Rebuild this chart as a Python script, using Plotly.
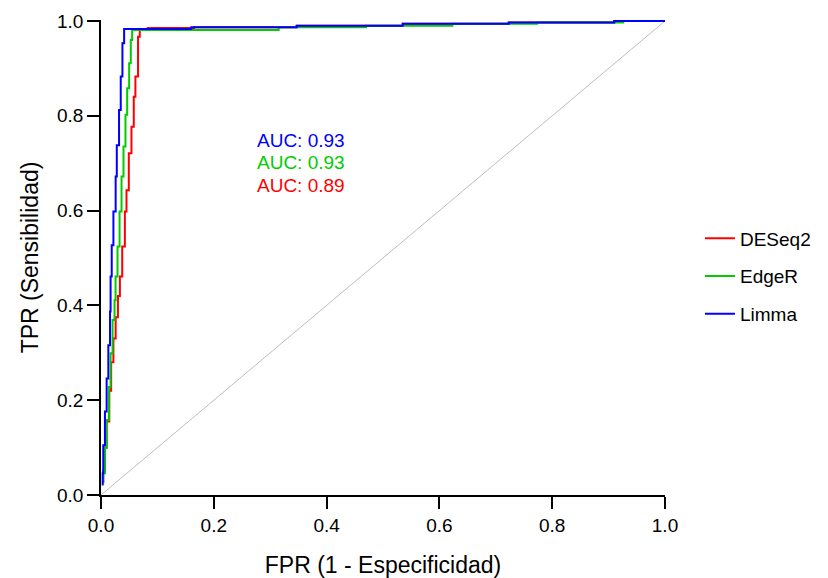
import plotly.graph_objects as go

# ROC step curves (FPR, TPR vertices, drawn with 'hv' steps)
deseq2_fpr = [0.004, 0.004, 0.007, 0.010, 0.0147, 0.018, 0.022, 0.026, 0.030, 0.0335, 0.0376,
              0.0423, 0.0452, 0.0493, 0.054, 0.0581, 0.061, 0.0657, 0.0687, 0.083, 0.165,
              0.347, 0.535, 0.723, 0.91, 1.0]
deseq2_tpr = [0.025, 0.050, 0.100, 0.155, 0.220, 0.280, 0.330, 0.375, 0.420, 0.461, 0.524,
              0.598, 0.643, 0.721, 0.777, 0.840, 0.883, 0.967, 0.983, 0.985, 0.987,
              0.990, 0.994, 0.997, 1.0, 1.0]

edger_fpr = [0.004, 0.004, 0.007, 0.010, 0.014, 0.017, 0.0205, 0.024, 0.0258, 0.0293, 0.0329,
             0.0364, 0.0399, 0.0434, 0.0464, 0.0499, 0.0528, 0.0552, 0.315, 0.470, 0.623,
             0.773, 0.926, 1.0]
edger_tpr = [0.025, 0.046, 0.099, 0.158, 0.228, 0.299, 0.369, 0.411, 0.461, 0.524, 0.598,
             0.672, 0.735, 0.802, 0.858, 0.911, 0.960, 0.981, 0.987, 0.990, 0.994,
             0.997, 1.0, 1.0]

limma_fpr = [0.003, 0.003, 0.004, 0.007, 0.010, 0.013, 0.016, 0.017, 0.019, 0.022, 0.026,
             0.028, 0.032, 0.035, 0.038, 0.041, 0.160, 0.347, 0.535, 0.723, 0.910, 1.0]
limma_tpr = [0.020, 0.046, 0.105, 0.176, 0.246, 0.316, 0.387, 0.461, 0.527, 0.598, 0.672,
             0.738, 0.812, 0.883, 0.953, 0.983, 0.987, 0.990, 0.994, 0.997, 1.0, 1.0]

series_names = ["DESeq2", "EdgeR", "Limma"]
series_colors = ["#FF0000", "#00CD00", "#0000FF"]
auc_values = [0.89, 0.93, 0.93]
auc_label_y = [0.652, 0.701, 0.747]
auc_label_x = 0.354

diag_x = [0, 1]
diag_y = [0, 1]

tick_vals = [0.0, 0.2, 0.4, 0.6, 0.8, 1.0]
tick_text = ["0.0", "0.2", "0.4", "0.6", "0.8", "1.0"]

FONT = "Liberation Sans, Arial, sans-serif"

fig = go.Figure()
fig.add_trace(go.Scatter(x=diag_x, y=diag_y, mode="lines", showlegend=False,
                         line=dict(color="#BEBEBE", width=1), hoverinfo="skip"))

xs = [deseq2_fpr, edger_fpr, limma_fpr]
ys = [deseq2_tpr, edger_tpr, limma_tpr]
for name, col, x, y in zip(series_names, series_colors, xs, ys):
    fig.add_trace(go.Scatter(x=x, y=y, mode="lines", name=name, legendgroup=name,
                             line=dict(color=col, width=2, shape="hv")))

for val, yy, col in zip(auc_values, auc_label_y, series_colors):
    fig.add_annotation(x=auc_label_x, y=yy, xref="x", yref="y", text=f"AUC: {val:.2f}",
                       showarrow=False, font=dict(family=FONT, size=19, color=col))

axis_common = dict(
    showgrid=False, zeroline=False, showline=True, linecolor="#000000", linewidth=1.5,
    ticks="outside", ticklen=12, tickwidth=1.5, tickcolor="#000000",
    tickvals=tick_vals, ticktext=tick_text,
    tickfont=dict(family=FONT, size=19, color="#000000"),
    mirror=False, automargin=False,
)

fig.update_layout(
    width=828, height=578,
    margin=dict(l=101, r=158, t=20, b=83),
    paper_bgcolor="white", plot_bgcolor="white",
    xaxis=dict(range=[0, 1], title=dict(text="FPR (1 - Especificidad)", standoff=24,
               font=dict(family=FONT, size=23, color="#000000")), **axis_common),
    yaxis=dict(range=[0, 1.0021], title=dict(text="TPR (Sensibilidad)", standoff=12,
               font=dict(family=FONT, size=23, color="#000000")), **axis_common),
    legend=dict(x=1.062, y=0.46, xanchor="left", yanchor="middle",
                font=dict(family=FONT, size=19, color="#000000"),
                tracegroupgap=10, bgcolor="rgba(0,0,0,0)", borderwidth=0),
    font=dict(family=FONT),
)

fig.write_html("out.html")
